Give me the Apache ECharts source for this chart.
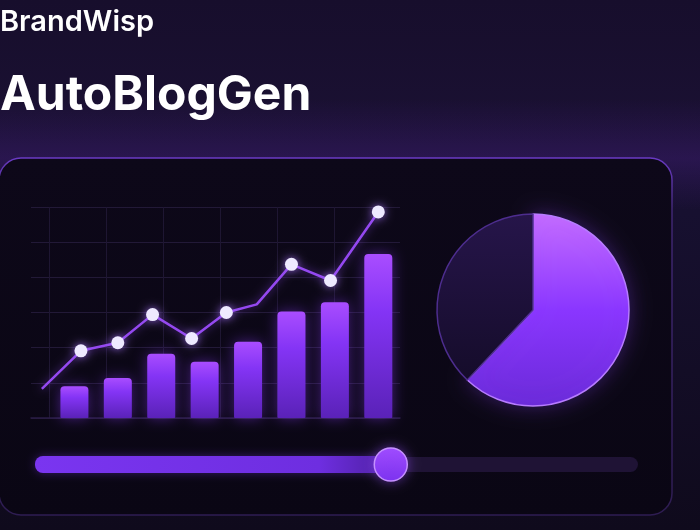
<!DOCTYPE html>
<html>
<head>
<meta charset="utf-8">
<script src="https://cdn.jsdelivr.net/npm/echarts@6/dist/echarts.min.js"></script>
<style>
  html, body { margin: 0; padding: 0; background: #140c26; }
  #main { width: 700px; height: 530px; }
</style>
</head>
<body>
<div id="main"></div>
<script>
// bar positions (slot index) and heights
var barSlots = [1, 2, 3, 4, 5, 6, 7, 8];
var barValues = [9, 11.4, 18.3, 16, 21.7, 30.3, 32.9, 46.6];
// trend line: x in slot units, y in same scale as bars
var lineX = [0.25, 1.15, 2.0, 2.8, 3.7, 4.5, 5.2, 6.0, 6.9, 8.0];
var lineY = [8.3, 19.1, 21.4, 29.4, 22.6, 30, 32.3, 43.7, 39.1, 58.6];
var lineMarked = [false, true, true, true, true, true, false, true, true, true];
// pie split
var pieNames = ['bright', 'dark'];
var pieValues = [62, 38];
// slider position 0..1
var sliderPos = 0.59;

var chart = echarts.init(document.getElementById('main'));

var barData = barSlots.map(function(s, i){ return [s, barValues[i]]; });
var lineData = lineX.map(function(x, i){
    return {
        value: [x, lineY[i]],
        symbol: lineMarked[i] ? 'circle' : 'none'
    };
});

var trackL = 35, trackR = 638, trackY = 456, trackH = 17;
var knobX = trackL + (trackR - trackL) * sliderPos;

var option = {
    animation: false,
    backgroundColor: '#140c26',
    graphic: [
        { type: 'rect', z: -20, shape: { x: 0, y: 0, width: 700, height: 530 },
          style: { fill: new echarts.graphic.LinearGradient(0, 0, 0, 1, [
              { offset: 0, color: '#170e2c' },
              { offset: 0.28, color: '#1b1134' },
              { offset: 0.4, color: '#171030' },
              { offset: 1, color: '#0f0a1c' }
          ]) } },
        // soft glow around the panel top
        { type: 'rect', z: -19, shape: { x: 0, y: 100, width: 700, height: 110 },
          style: { fill: new echarts.graphic.LinearGradient(0, 0, 0, 1, [
              { offset: 0, color: 'rgba(80,35,150,0)' },
              { offset: 0.53, color: 'rgba(80,35,150,0.28)' },
              { offset: 1, color: 'rgba(80,35,150,0)' }
          ]) } },
        { type: 'rect', z: -18, shape: { x: -1, y: 158, width: 673, height: 357, r: 22 },
          style: { fill: new echarts.graphic.LinearGradient(0, 0, 0, 1, [
              { offset: 0, color: '#0d0819' },
              { offset: 1, color: '#0a0614' }
          ]), stroke: new echarts.graphic.LinearGradient(0, 0, 0, 1, [
              { offset: 0, color: '#6a3ac4' },
              { offset: 0.15, color: '#3f2672' },
              { offset: 1, color: '#2e1c52' }
          ]), lineWidth: 1.5 } },
        // slider track
        { type: 'rect', z: -10, shape: { x: trackL, y: trackY + 1, width: trackR - trackL, height: trackH - 2, r: 8 },
          style: { fill: '#1f1335' } },
        { type: 'rect', z: -9, shape: { x: trackL, y: trackY, width: knobX - trackL, height: trackH, r: 8 },
          style: { fill: new echarts.graphic.LinearGradient(0, 0, 1, 0, [
              { offset: 0, color: '#7a35f0' },
              { offset: 0.8, color: '#6e2ee0' },
              { offset: 1, color: '#4c1fa0' }
          ]), shadowBlur: 10, shadowColor: 'rgba(130,60,255,0.35)' } },
        { type: 'circle', z: -8, shape: { cx: knobX, cy: trackY + trackH / 2, r: 16.5 },
          style: { fill: new echarts.graphic.LinearGradient(0, 0, 0, 1, [
              { offset: 0, color: '#a04cff' },
              { offset: 1, color: '#7a30ee' }
          ]), stroke: '#c590ff', lineWidth: 1.5, shadowBlur: 12, shadowColor: 'rgba(150,80,255,0.5)' } },
        // titles
        { type: 'text', z: 10, style: { text: 'BrandWisp', x: 0, y: 22, textVerticalAlign: 'middle',
            font: '600 29px Inter', fill: '#ffffff' } },
        { type: 'text', z: 10, style: { text: 'AutoBlogGen', x: 0, y: 96, textVerticalAlign: 'middle',
            font: '700 48px Inter', fill: '#ffffff' } }
    ],
    grid: [
        { left: 31, top: 207, width: 369, height: 211 },
        { left: 49, top: 207, width: 285, height: 211 }
    ],
    xAxis: [
        { type: 'value', gridIndex: 0, min: 0, max: 8.5,
          axisLine: { show: true, lineStyle: { color: '#2a1d45', width: 1.5 } },
          axisTick: { show: false }, axisLabel: { show: false }, splitLine: { show: false } },
        { type: 'value', gridIndex: 1, min: 0, max: 5, interval: 1,
          axisLine: { show: false }, axisTick: { show: false }, axisLabel: { show: false },
          splitLine: { show: true, lineStyle: { color: '#1e1632', width: 1 } } }
    ],
    yAxis: [
        { type: 'value', gridIndex: 0, min: 0, max: 60, interval: 10,
          axisLine: { show: false }, axisTick: { show: false }, axisLabel: { show: false },
          splitLine: { show: true, lineStyle: { color: '#221937', width: 1 } } },
        { type: 'value', gridIndex: 1, min: 0, max: 60, show: false }
    ],
    series: [
        {
            type: 'bar',
            xAxisIndex: 0, yAxisIndex: 0,
            data: barData,
            barWidth: 28,
            itemStyle: {
                borderRadius: [4, 4, 1, 1],
                color: new echarts.graphic.LinearGradient(0, 0, 0, 1, [
                    { offset: 0, color: '#a94dff' },
                    { offset: 0.35, color: '#8434f5' },
                    { offset: 1, color: '#5a22b8' }
                ]),
                shadowBlur: 14,
                shadowColor: 'rgba(140,60,255,0.45)'
            },
            z: 3
        },
        {
            type: 'line',
            xAxisIndex: 0, yAxisIndex: 0,
            data: lineData,
            symbolSize: 13,
            lineStyle: { color: '#9448f0', width: 2.5, shadowBlur: 8, shadowColor: 'rgba(150,80,255,0.6)' },
            itemStyle: { color: '#eeeaff', borderColor: '#eeeaff', borderWidth: 0,
                shadowBlur: 10, shadowColor: 'rgba(170,120,255,0.8)' },
            z: 5
        },
        {
            type: 'pie',
            center: [533, 310],
            radius: [0, 96],
            startAngle: 90,
            clockwise: true,
            label: { show: false },
            labelLine: { show: false },
            data: [
                { name: pieNames[0], value: pieValues[0],
                  itemStyle: {
                      color: new echarts.graphic.LinearGradient(0, 0, 0, 1, [
                          { offset: 0, color: '#c46cff' },
                          { offset: 0.5, color: '#8a36ff' },
                          { offset: 1, color: '#6a2ad8' }
                      ]),
                      borderColor: '#b77cff', borderWidth: 1.5,
                      shadowBlur: 20, shadowColor: 'rgba(130,60,240,0.35)'
                  } },
                { name: pieNames[1], value: pieValues[1],
                  itemStyle: {
                      color: new echarts.graphic.LinearGradient(0, 0, 0, 1, [
                          { offset: 0, color: '#26154a' },
                          { offset: 1, color: '#150c2a' }
                      ]),
                      borderColor: '#4d2d8e', borderWidth: 1.5
                  } }
            ],
            emphasis: { disabled: true },
            silent: true
        }
    ]
};

chart.setOption(option);
</script>
</body>
</html>
